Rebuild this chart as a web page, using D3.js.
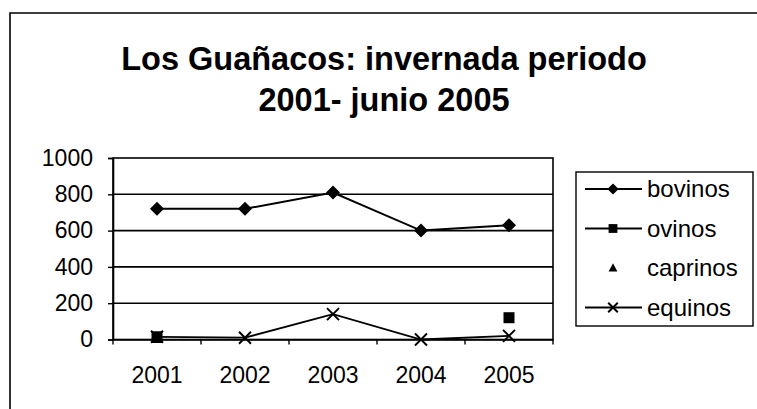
<!DOCTYPE html>
<html>
<head>
<meta charset="utf-8">
<script src="https://cdn.jsdelivr.net/npm/d3@7/dist/d3.min.js"></script>
<style>
  html, body { margin: 0; padding: 0; background: #fff; }
  svg { display: block; font-family: Arial, "Liberation Sans", sans-serif; }
</style>
</head>
<body>
<svg id="chart" width="757" height="409"></svg>
<script>
// Livestock wintering counts per year
const years = ["2001", "2002", "2003", "2004", "2005"];
const bovinos = [720, 720, 810, 600, 630];
const ovinos = [15, null, null, null, 120];
const caprinos = [5, null, null, null, null];
const equinos = [15, 10, 140, 0, 20];
const yTicks = [0, 200, 400, 600, 800, 1000];
const titleLines = ["Los Guañacos: invernada periodo", "2001- junio 2005"];

const series = [
  { name: "bovinos", values: bovinos, marker: "diamond", line: true, lineWidth: 2 },
  { name: "ovinos", values: ovinos, marker: "square", line: true, lineWidth: 2 },
  { name: "caprinos", values: caprinos, marker: "triangle", line: false, lineWidth: 0 },
  { name: "equinos", values: equinos, marker: "cross", line: true, lineWidth: 1.8 }
];

const svg = d3.select("#chart");

// outer chart frame (only top and left edges fall inside the canvas)
svg.append("path")
  .attr("d", "M10,409V13H757")
  .attr("fill", "none").attr("stroke", "#000").attr("stroke-width", 1.6);

// title
const title = svg.append("text")
  .attr("text-anchor", "middle")
  .attr("font-weight", "bold")
  .attr("font-size", 32.5)
  .attr("fill", "#000");
title.selectAll("tspan").data(titleLines).join("tspan")
  .attr("x", 384)
  .attr("y", (d, i) => 70 + i * 41)
  .text(d => d);

// plot area
const plot = { left: 113, right: 553, top: 158, bottom: 339.5 };
const x = d3.scaleBand().domain(years).range([plot.left, plot.right]);
const y = d3.scaleLinear().domain([0, 1000]).range([plot.bottom, plot.top]);
const cx = d => x(d) + x.bandwidth() / 2;

// horizontal gridlines
svg.append("g").selectAll("line").data(yTicks.slice(1, -1)).join("line")
  .attr("x1", plot.left).attr("x2", plot.right)
  .attr("y1", d => y(d)).attr("y2", d => y(d))
  .attr("stroke", "#000").attr("stroke-width", 1.6);

// plot border
svg.append("rect")
  .attr("x", plot.left).attr("y", plot.top)
  .attr("width", plot.right - plot.left).attr("height", plot.bottom - plot.top)
  .attr("fill", "none").attr("stroke", "#000").attr("stroke-width", 1.6);

// y axis
const yAxis = svg.append("g")
  .attr("transform", `translate(${plot.left},0)`)
  .call(d3.axisLeft(y).tickValues(yTicks).tickFormat(d3.format("d")).tickSize(5).tickPadding(15));
yAxis.select(".domain").attr("stroke-width", 1.6);
yAxis.selectAll(".tick line").attr("stroke-width", 1.4);
yAxis.selectAll("text").attr("font-size", 23).attr("font-family", "Arial, 'Liberation Sans', sans-serif").attr("fill", "#000");

// x axis with ticks at category boundaries
const xAxis = svg.append("g")
  .attr("transform", `translate(0,${plot.bottom})`)
  .call(d3.axisBottom(x).tickSize(0).tickPadding(27));
xAxis.select(".domain").attr("stroke-width", 1.6);
xAxis.selectAll("text").attr("font-size", 23).attr("font-family", "Arial, 'Liberation Sans', sans-serif").attr("fill", "#000");
const boundaries = years.map(d => x(d)).concat([plot.right]);
svg.append("g").selectAll("line").data(boundaries).join("line")
  .attr("x1", d => d).attr("x2", d => d)
  .attr("y1", plot.bottom).attr("y2", plot.bottom + 5)
  .attr("stroke", "#000").attr("stroke-width", 1.4);

// marker drawing
function drawMarker(g, type, scale = 1) {
  const s = scale;
  if (type === "diamond") {
    g.append("path").attr("d", `M0,${-7 * s}L${7 * s},0L0,${7 * s}L${-7 * s},0Z`).attr("fill", "#000");
  } else if (type === "square") {
    g.append("rect").attr("x", -5.5 * s).attr("y", -5.5 * s).attr("width", 11 * s).attr("height", 11 * s).attr("fill", "#000");
  } else if (type === "triangle") {
    g.append("path").attr("d", `M0,${-6 * s}L${5.5 * s},${4.5 * s}L${-5.5 * s},${4.5 * s}Z`).attr("fill", "#000");
  } else if (type === "cross") {
    g.append("path").attr("d", `M${-6 * s},${-6 * s}L${6 * s},${6 * s}M${-6 * s},${6 * s}L${6 * s},${-6 * s}`)
      .attr("stroke", "#000").attr("stroke-width", 2).attr("fill", "none");
  }
}

// series lines and markers
const line = d3.line()
  .defined(d => d.v !== null)
  .x(d => cx(d.year))
  .y(d => y(d.v));

series.forEach(s => {
  const pts = years.map((yr, i) => ({ year: yr, v: s.values[i] }));
  if (s.line) {
    svg.append("path").datum(pts)
      .attr("d", line)
      .attr("fill", "none").attr("stroke", "#000").attr("stroke-width", s.lineWidth);
  }
  svg.append("g").selectAll("g").data(pts.filter(p => p.v !== null)).join("g")
    .attr("transform", p => `translate(${cx(p.year)},${y(p.v)})`)
    .each(function () { drawMarker(d3.select(this), s.marker); });
});

// legend
const legend = { left: 576, top: 172, right: 753, bottom: 326 };
svg.append("rect")
  .attr("x", legend.left).attr("y", legend.top)
  .attr("width", legend.right - legend.left).attr("height", legend.bottom - legend.top)
  .attr("fill", "#fff").attr("stroke", "#000").attr("stroke-width", 1.4);

const item = svg.append("g").selectAll("g").data(series).join("g")
  .attr("transform", (d, i) => `translate(${legend.left},${189 + i * 39.5})`);
item.filter(d => d.line).append("line")
  .attr("x1", 9).attr("x2", 66).attr("y1", 0).attr("y2", 0)
  .attr("stroke", "#000").attr("stroke-width", d => d.lineWidth);
item.append("g").attr("transform", "translate(37,0)")
  .each(function (d) { drawMarker(d3.select(this), d.marker, 0.8); });
item.append("text")
  .attr("x", 71).attr("y", 0).attr("dy", "0.35em")
  .attr("font-size", 24).attr("fill", "#000")
  .text(d => d.name);
</script>
</body>
</html>
